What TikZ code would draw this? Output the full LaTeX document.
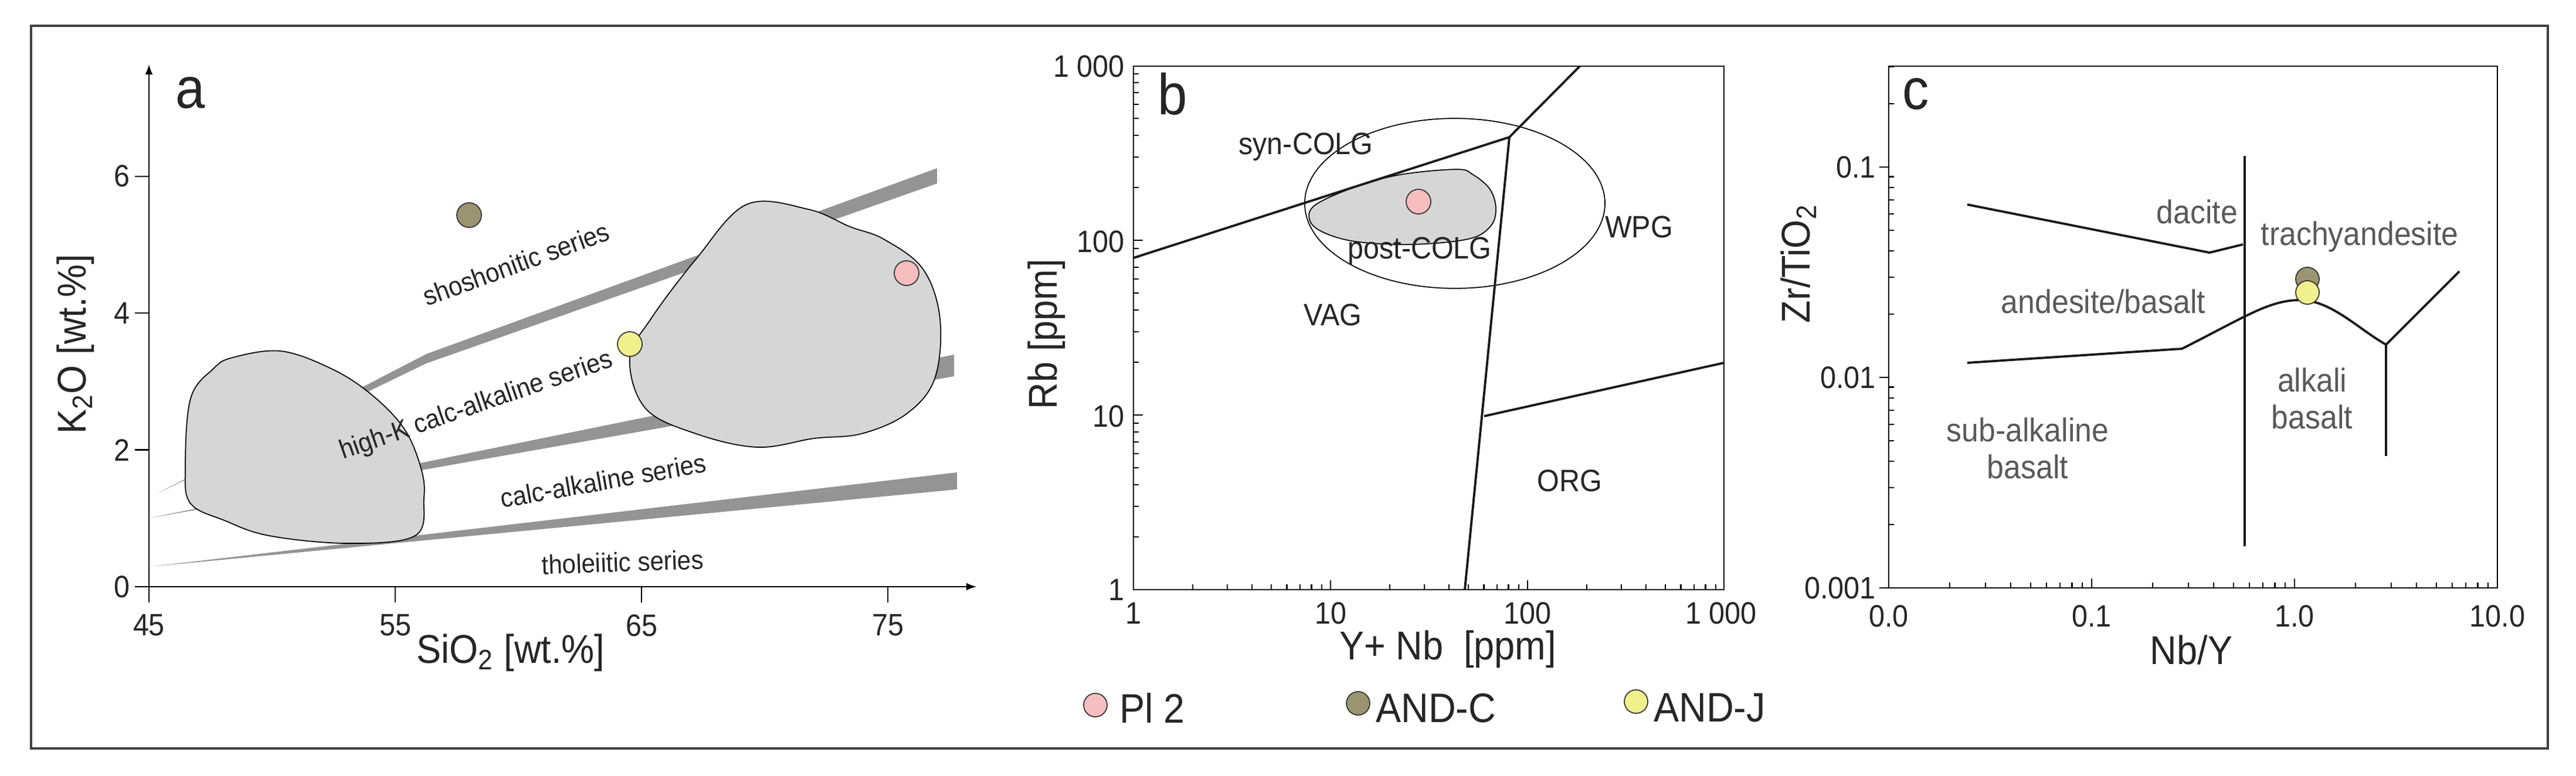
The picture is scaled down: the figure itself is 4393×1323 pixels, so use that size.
\documentclass[tikz,border=0pt]{standalone}
\usepackage{fontspec}
\setmainfont{Liberation Sans}[FakeStretch=0.92]
\begin{document}
\begin{tikzpicture}[x=0.01cm,y=-0.01cm,
  tick/.style={font=\fontsize{15}{15}\selectfont, text=black!85, inner sep=1pt},
  axl/.style={font=\fontsize{19.5}{20}\selectfont, text=black!85, inner sep=1pt},
  ser/.style={font=\fontsize{13}{13}\selectfont, text=black!85, inner sep=1pt},
  reg/.style={font=\fontsize{15}{15}\selectfont, text=black!85, inner sep=1pt},
  regc/.style={font=\fontsize{16}{18}\selectfont, text=black!65, align=center, inner sep=1pt},
  pan/.style={font=\fontsize{28}{28}\selectfont, text=black!85, inner sep=1pt},
  leg/.style={font=\fontsize{20}{20}\selectfont, anchor=west, text=black!85, inner sep=1pt},
  band/.style={fill=black!42, draw=none},
  blob/.style={fill=black!16, draw=black, line width=0.5pt},
  bl/.style={line width=1.1pt, draw=black!90},
  pt/.style={draw=black!80, line width=0.5pt},
  pinkc/.style={pt, fill={rgb,255:red,247;green,190;blue,192}},
  olive/.style={pt, fill={rgb,255:red,154;green,148;blue,112}},
  yell/.style={pt, fill={rgb,255:red,240;green,240;blue,140}}]
\useasboundingbox (0,0) rectangle (4393,1323);
\fill[white] (0,0) rectangle (4393,1323);
\draw[black!75, line width=0.9pt] (53,44) rectangle (4345,1277);

% ---------- panel a ----------
\fill[band] (268,842) -- (727,604) -- (1598,287) -- (1598,313) -- (727,620) -- cycle;
\fill[band] (254,884) -- (1627,605) -- (1627,642) -- cycle;
\fill[band] (254,967) -- (1632,806) -- (1632,835) -- cycle;
\draw[blob] plot[smooth cycle, tension=0.6] coordinates {(397,610) (479,599) (565,629) (632,672) (689,731) (718,799) (723,850) (708,914) (593,927) (459,914) (383,888) (325,859) (316,799) (325,680) (364,629)};
\draw[blob] plot[smooth cycle, tension=0.6] coordinates {(1273,349) (1378,357) (1450,387) (1507,408) (1574,459) (1603,544) (1594,646) (1546,706) (1469,740) (1388,748) (1292,763) (1187,740) (1101,697) (1074,612) (1110,544) (1187,442)};
\draw[line width=0.7pt, -latex] (240,1001) -- (1665,1001);
\draw[line width=0.7pt, -latex] (254,1014) -- (254,110);
\foreach \v in {0,2,4,6} {
  \draw[line width=0.7pt] (230,{1001-116.7*\v}) -- (254,{1001-116.7*\v});
  \node[tick, anchor=east] (ya\v) at (226,{1001-116.7*\v}) {\v};}
\foreach \s in {45,55,65,75} {
  \draw[line width=0.7pt] ({254+42*(\s-45)},1001) -- ({254+42*(\s-45)},1028);
  \node[tick] (xa\s) at ({254+42*(\s-45)},1067) {\s};}
\node[axl, rotate=90] (ylabA) at (129,587) {K\textsubscript{2}O [wt.\%]};
\node[axl] (xlabA) at (871,1114) {SiO\textsubscript{2} [wt.\%]};
\node[pan] (la) at (325,158) {a};
\node[ser, rotate=20] (s1) at (880,450) {shoshonitic series};
\node[ser, rotate=19] (s2) at (813,693) {high-K calc-alkaline series};
\node[ser, rotate=10] (s3) at (1029,820) {calc-alkaline series};
\node[ser, rotate=2] (s4) at (1062,959) {tholeiitic series};
\draw[olive] (800,367) circle (21);
\draw[yell] (1074,587) circle (21);
\draw[pinkc] (1546,466) circle (21);

% ---------- panel b ----------
\draw[blob] plot[smooth cycle, tension=0.6] coordinates {(2244,349) (2311,319) (2388,298) (2484,289) (2512,298) (2541,323) (2551,357) (2541,387) (2503,408) (2407,417) (2311,412) (2254,395) (2233,374)};
\draw[line width=0.5pt] (2481,347) ellipse (256 and 145);
\draw[line width=0.8pt] (1933,113) rectangle (2940,1006);
\foreach \k in {0,1,2} \foreach \i in {1,...,9} {
  \pgfmathsetmacro{\px}{1933+336*(\k+log10(\i))}
  \pgfmathsetmacro{\py}{1006-298*(\k+log10(\i))}
  \pgfmathsetmacro{\tl}{\i==1 ? 16 : 9}
  \draw[line width=0.6pt] (\px,1006) -- (\px,1006-\tl);
  \draw[line width=0.6pt] (1933,\py) -- (1933+\tl,\py);}
\coordinate (bk) at (2574,234);
\coordinate (bl1) at (1933,440);
\coordinate (bt) at (2694,113);
\coordinate (bb) at (2498,1006);
\coordinate (bm) at (2531,710);
\coordinate (br) at (2940,619);
\draw[bl] (bl1) -- (bk) -- (bt);
\draw[bl] (bk) -- (bb);
\draw[bl] (bm) -- (br);
\draw[pinkc] (2419,344) circle (21);
\node[tick, anchor=east] (yb3) at (1922,113) {1 000};
\node[tick, anchor=east] (yb2) at (1922,412) {100};
\node[tick, anchor=east] (yb1) at (1922,710) {10};
\node[tick, anchor=east] (yb0) at (1922,1006) {1};
\node[tick] (xb0) at (1933,1046) {1};
\node[tick] (xb1) at (2269,1046) {10};
\node[tick] (xb2) at (2605,1046) {100};
\node[tick] (xb3) at (2935,1046) {1 000};
\node[axl, rotate=90] (ylabB) at (1785,570) {Rb [ppm]};
\node[axl] (xlabB) at (2469,1108) {Y+ Nb\ \ [ppm]};
\node[pan] (lb) at (2000,160) {b};
\node[reg] (r1) at (2227,251) {syn-COLG};
\node[reg] (r2) at (2421,429) {post-COLG};
\node[reg] (r3) at (2795,387) {WPG};
\node[reg] (r4) at (2273,537) {VAG};
\node[reg] (r5) at (2677,820) {ORG};

% legend
\draw[pinkc] (1868,1203) circle (20);
\node[leg] (lg1) at (1905,1208) {Pl 2};
\draw[olive] (2316,1200) circle (20);
\node[leg] (lg2) at (2342,1208) {AND-C};
\draw[yell] (2790,1197) circle (20);
\node[leg] (lg3) at (2816,1208) {AND-J};

% ---------- panel c ----------
\draw[line width=0.8pt] (3221,113) rectangle (4259,1003);
\foreach \k in {0,1,2} \foreach \i in {1,...,9} {
  \pgfmathsetmacro{\px}{3221+346*(\k+log10(\i))}
  \pgfmathsetmacro{\tl}{\i==1 ? 16 : 9}
  \draw[line width=0.6pt] (\px,1003) -- (\px,1003-\tl);}
\foreach \k in {0,1} \foreach \i in {2,...,9} {
  \pgfmathsetmacro{\py}{1003-359*(\k+log10(\i))}
  \draw[line width=0.6pt] (3221,\py) -- (3230,\py);}
\foreach \i in {2,3} {
  \pgfmathsetmacro{\py}{1003-359*(2+log10(\i))}
  \draw[line width=0.6pt] (3221,\py) -- (3230,\py);}
\foreach \py in {1003,644,285} \draw[line width=0.6pt] (3205,\py) -- (3221,\py);
\coordinate (c1) at (3355,349);
\coordinate (c2) at (3768,431);
\coordinate (c3) at (3825,417);
\coordinate (cvt) at (3828,266);
\coordinate (cvb) at (3828,932);
\coordinate (d1) at (3355,619);
\coordinate (d2) at (3721,595);
\coordinate (d5) at (4069,588);
\coordinate (d6) at (4194,463);
\coordinate (d7) at (4069,778);
\draw[bl] (c1) -- (c2) -- (c3);
\draw[bl] (cvt) -- (cvb);
\draw[bl] (d1) -- (d2) .. controls (3830,540) and (3870,512) .. (3922,512) .. controls (3975,512) and (4020,560) .. (d5) -- (d6);
\draw[bl] (d5) -- (d7);
\draw[olive] (3935,476) circle (20);
\draw[yell] (3935,499) circle (20);
\node[tick, anchor=east] (yc1) at (3203,285) {0.1};
\node[tick, anchor=east] (yc2) at (3203,644) {0.01};
\node[tick, anchor=east] (yc3) at (3203,1003) {0.001};
\node[tick] (xc0) at (3221,1051) {0.0};
\node[tick] (xc1) at (3567,1051) {0.1};
\node[tick] (xc2) at (3913,1051) {1.0};
\node[tick] (xc3) at (4259,1051) {10.0};
\node[axl, rotate=90] (ylabC) at (3067,450) {Zr/TiO\textsubscript{2}};
\node[axl] (xlabC) at (3737,1109) {Nb/Y};
\node[pan] (lc) at (3267,160) {c};
\node[regc] (q1) at (3747,361) {dacite};
\node[regc] (q2) at (4024,404) {trachyandesite};
\node[regc] (q3) at (3587,514) {andesite/basalt};
\node[regc] (q4) at (3943,680) {alkali\\basalt};
\node[regc] (q5) at (3458,765) {sub-alkaline\\basalt};
\end{tikzpicture}
\end{document}
